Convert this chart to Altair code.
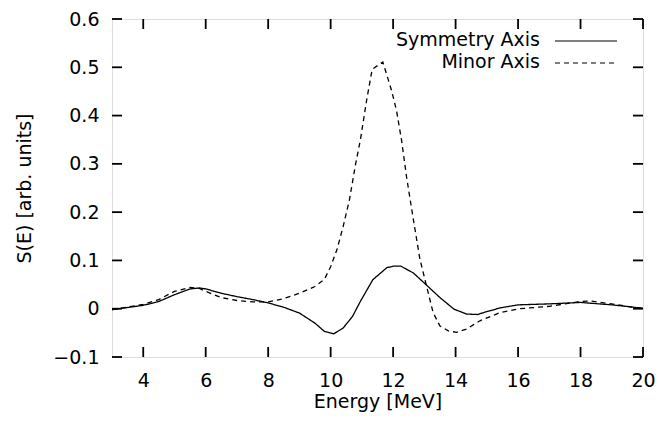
import altair as alt
import pandas as pd

# Symmetry Axis (solid)
sym_e = [3.0, 4.0, 4.5, 5.0, 5.5, 5.8, 6.0, 6.5, 7.0, 7.5, 8.0, 8.5, 9.0, 9.5, 9.8, 10.1, 10.4, 10.7,
         10.95, 11.35, 11.8, 12.0, 12.25, 12.65, 13.05, 13.5, 13.95, 14.35, 14.7, 15.0, 15.45, 16.0,
         17.0, 18.0, 19.0, 20.0]
sym_s = [-0.002, 0.007, 0.015, 0.029, 0.041, 0.043, 0.041, 0.032, 0.025, 0.019, 0.012, 0.003, -0.009,
         -0.030, -0.047, -0.052, -0.040, -0.016, 0.015, 0.060, 0.085, 0.088, 0.088, 0.074, 0.050, 0.023,
         -0.001, -0.011, -0.012, -0.006, 0.002, 0.008, 0.010, 0.013, 0.008, 0.001]

# Minor Axis (dashed)
min_e = [3.0, 4.0, 4.5, 5.0, 5.5, 5.8, 6.0, 6.5, 7.0, 7.5, 8.0, 8.5, 9.0, 9.5, 9.8, 10.0, 10.2, 10.4,
         10.6, 10.8, 10.95, 11.15, 11.33, 11.67, 11.95, 12.11, 12.27, 12.43, 12.65, 12.86, 13.07, 13.28,
         13.5, 13.77, 14.03, 14.35, 14.78, 15.42, 16.06, 17.0, 18.0, 18.3, 19.0, 20.0]
min_s = [-0.002, 0.009, 0.019, 0.036, 0.044, 0.042, 0.036, 0.023, 0.017, 0.014, 0.014, 0.021, 0.032,
         0.046, 0.061, 0.087, 0.122, 0.170, 0.225, 0.300, 0.349, 0.431, 0.496, 0.511, 0.452, 0.410,
         0.349, 0.273, 0.184, 0.102, 0.047, -0.008, -0.036, -0.046, -0.049, -0.042, -0.025, -0.008,
         0.000, 0.005, 0.015, 0.016, 0.010, 0.000]

series_names = ["Symmetry Axis", "Minor Axis"]
x_ticks = [4, 6, 8, 10, 12, 14, 16, 18, 20]
y_ticks = [-0.1, 0.0, 0.1, 0.2, 0.3, 0.4, 0.5, 0.6]

W, H = 531, 338
FONT = "DejaVu Sans"
FS = 19
DASHES = [[1, 0], [5, 4]]

df = pd.concat([
    pd.DataFrame({"E": sym_e, "S": sym_s, "series": series_names[0], "order": range(len(sym_e))}),
    pd.DataFrame({"E": min_e, "S": min_s, "series": series_names[1], "order": range(len(min_e))}),
])

xscale = alt.Scale(domain=[3, 20], nice=False, zero=False)
yscale = alt.Scale(domain=[-0.1, 0.6], nice=False, zero=False)

common_axis = dict(ticks=False, domain=False, grid=False, labelFont=FONT, titleFont=FONT,
                   labelColor="black", titleColor="black", titleFontWeight="normal",
                   labelFlush=False, labelFontSize=FS, titleFontSize=FS)

lines = alt.Chart(df).mark_line(strokeWidth=1.3, color="black", clip=True).encode(
    x=alt.X("E:Q", scale=xscale,
            axis=alt.Axis(values=x_ticks, format="d", title="Energy [MeV]",
                          labelPadding=14, titlePadding=2, **common_axis)),
    y=alt.Y("S:Q", scale=yscale,
            axis=alt.Axis(values=y_ticks, title="S(E) [arb. units]",
                          labelPadding=13, titlePadding=18,
                          labelExpr="datum.value == 0 ? '0' : format(datum.value, '.1f')",
                          **common_axis)),
    strokeDash=alt.StrokeDash("series:N", scale=alt.Scale(domain=series_names, range=DASHES),
                              legend=None),
    detail="series:N",
    order="order:Q",
)

xt = pd.DataFrame({"E": x_ticks})
yt = pd.DataFrame({"S": y_ticks})
TL = 10
tick_style = dict(color="black", strokeWidth=1.8)
xt_bottom = alt.Chart(xt).mark_rule(**tick_style).encode(
    x=alt.X("E:Q", scale=xscale), y=alt.value(H), y2=alt.value(H - TL))
xt_top = alt.Chart(xt).mark_rule(**tick_style).encode(
    x=alt.X("E:Q", scale=xscale), y=alt.value(0), y2=alt.value(TL))
yt_left = alt.Chart(yt).mark_rule(**tick_style).encode(
    y=alt.Y("S:Q", scale=yscale), x=alt.value(0), x2=alt.value(TL))
yt_right = alt.Chart(yt).mark_rule(**tick_style).encode(
    y=alt.Y("S:Q", scale=yscale), x=alt.value(W), x2=alt.value(W - TL))

legend_layers = []
for i, name in enumerate(series_names):
    row_y = 21 + 22 * i
    d = pd.DataFrame({"series": [name]})
    legend_layers.append(
        alt.Chart(d).mark_text(align="right", baseline="middle", fontSize=FS, font=FONT,
                               color="black").encode(text="series:N", x=alt.value(428),
                                                     y=alt.value(row_y)))
    legend_layers.append(
        alt.Chart(d).mark_rule(color="black", strokeWidth=1.2, strokeDash=DASHES[i]).encode(
            x=alt.value(443), x2=alt.value(505), y=alt.value(row_y + 1)))

chart = alt.layer(lines, xt_bottom, xt_top, yt_left, yt_right, *legend_layers).properties(
    width=W, height=H,
    autosize=alt.AutoSizeParams(type="none"),
    padding={"left": 112, "top": 19, "right": 17, "bottom": 67},
).configure_view(stroke="black", strokeWidth=2).configure(background="white")

chart.save("out.html", embed_options={"renderer": "svg", "actions": False})
